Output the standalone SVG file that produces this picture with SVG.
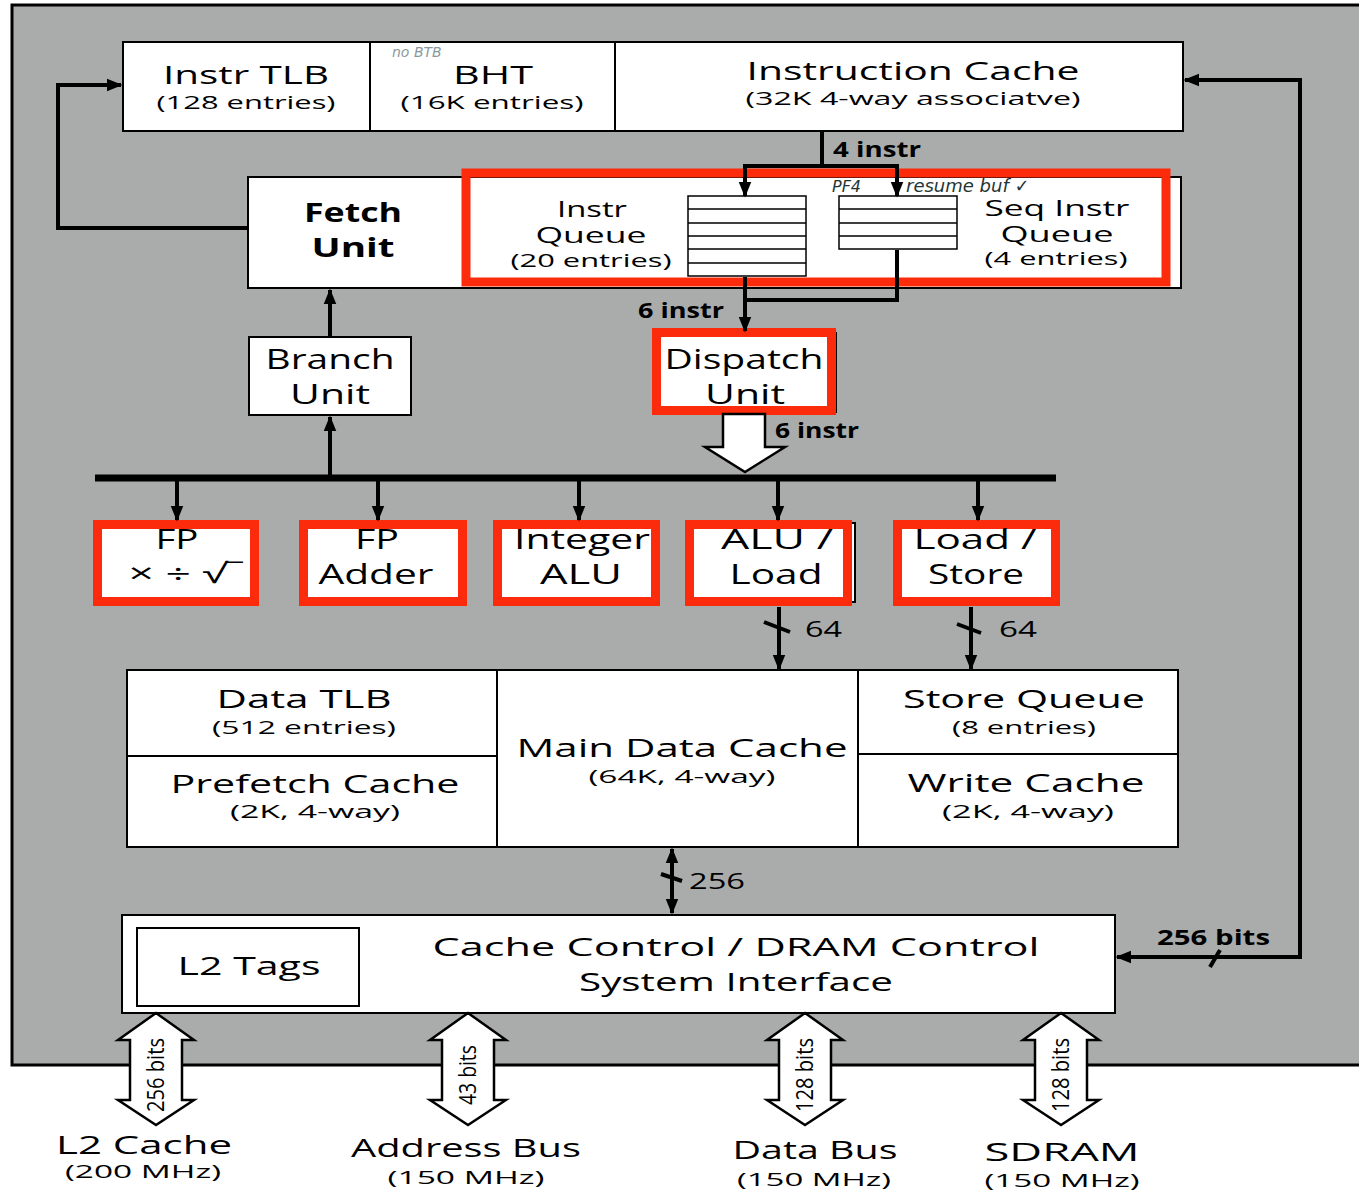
<svg xmlns="http://www.w3.org/2000/svg" width="1359" height="1191" viewBox="0 0 1359 1191">
<style>
.box{fill:#fff;stroke:#000;stroke-width:2}
.red{fill:none;stroke:#fb2b0b;stroke-width:9}
.t{font-family:"Open Sans","Liberation Sans",sans-serif;fill:#000;text-anchor:middle}
.b{font-weight:bold}
.s{text-anchor:start}
.conn{stroke:#000;stroke-width:4;fill:none}
.hollow{fill:#fff;stroke:#000;stroke-width:2.5;stroke-linejoin:miter}
.hand{font-family:"DejaVu Sans","Liberation Sans",sans-serif;font-style:italic;text-anchor:start}
</style>
<defs>
<marker id="ah" viewBox="0 0 10 10" refX="9" refY="5" markerWidth="16" markerHeight="16" markerUnits="userSpaceOnUse" orient="auto-start-reverse">
<path d="M0,1 L10,5 L0,9 z" fill="#000"/>
</marker>
</defs>
<rect x="0" y="0" width="1359" height="1191" fill="#fff"/>
<g id="frame">
<rect x="12" y="5" width="1347" height="1060" fill="#a9acab"/>
<path d="M1359,5 H12 V1065 H1359" fill="none" stroke="#000" stroke-width="3"/>
</g>

<g id="instr-tlb">
<rect class="box" x="123" y="42" width="247" height="89"/>
<text class="t" x="246" y="84" font-size="26" textLength="166" lengthAdjust="spacingAndGlyphs">Instr TLB</text>
<text class="t" x="246" y="109" font-size="19" textLength="179" lengthAdjust="spacingAndGlyphs">(128 entries)</text>
</g>
<g id="bht">
<rect class="box" x="370" y="42" width="245" height="89"/>
<text class="t" x="493" y="84" font-size="26" textLength="80" lengthAdjust="spacingAndGlyphs">BHT</text>
<text class="t" x="492" y="109" font-size="19" textLength="183" lengthAdjust="spacingAndGlyphs">(16K entries)</text>
<text class="hand" x="392" y="57" font-size="14" fill="#8a9a9c">no BTB</text>
</g>
<g id="instr-cache">
<rect class="box" x="615" y="42" width="568" height="89"/>
<text class="t" x="913" y="80" font-size="26" textLength="333" lengthAdjust="spacingAndGlyphs">Instruction Cache</text>
<text class="t" x="913" y="105" font-size="19" textLength="335" lengthAdjust="spacingAndGlyphs">(32K 4-way associatve)</text>
</g>

<g id="fetch-unit">
<rect class="box" x="248" y="177" width="933" height="111"/>
<text class="t b" x="353" y="222" font-size="27" textLength="98" lengthAdjust="spacingAndGlyphs">Fetch</text>
<text class="t b" x="353" y="257" font-size="27" textLength="83" lengthAdjust="spacingAndGlyphs">Unit</text>
</g>
<g id="instr-queue">
<rect x="688" y="196" width="118" height="80" fill="#fff" stroke="#000" stroke-width="1.5"/>
<path d="M688,209 H806 M688,223 H806 M688,236 H806 M688,249 H806 M688,263 H806" stroke="#000" stroke-width="1.5"/>
<text class="t" x="592" y="217" font-size="22" textLength="70" lengthAdjust="spacingAndGlyphs">Instr</text>
<text class="t" x="591" y="243" font-size="22" textLength="111" lengthAdjust="spacingAndGlyphs">Queue</text>
<text class="t" x="591" y="267" font-size="18" textLength="161" lengthAdjust="spacingAndGlyphs">(20 entries)</text>
</g>
<g id="seq-instr-queue">
<rect x="839" y="196" width="118" height="53" fill="#fff" stroke="#000" stroke-width="1.5"/>
<path d="M839,209 H957 M839,223 H957 M839,236 H957" stroke="#000" stroke-width="1.5"/>
<text class="t" x="1057" y="216" font-size="22" textLength="145" lengthAdjust="spacingAndGlyphs">Seq Instr</text>
<text class="t" x="1057" y="242" font-size="22" textLength="113" lengthAdjust="spacingAndGlyphs">Queue</text>
<text class="t" x="1056" y="265" font-size="18" textLength="143" lengthAdjust="spacingAndGlyphs">(4 entries)</text>
<text class="hand" x="832" y="192" font-size="16" fill="#1f3535">PF4</text>
<text class="hand" x="906" y="192" font-size="18" fill="#1f3535">resume buf ✓</text>
</g>
<g id="queue-highlight">
<rect class="red" x="466" y="173" width="700" height="109"/>
</g>

<g id="branch-unit">
<rect class="box" x="249" y="337" width="162" height="78"/>
<text class="t" x="330" y="369" font-size="27" textLength="129" lengthAdjust="spacingAndGlyphs">Branch</text>
<text class="t" x="330" y="404" font-size="27" textLength="80" lengthAdjust="spacingAndGlyphs">Unit</text>
</g>
<g id="dispatch-unit">
<rect class="box" x="656" y="333" width="180" height="79"/>
<rect class="red" x="656.5" y="332.5" width="175" height="78"/>
<text class="t" x="744" y="369" font-size="27" textLength="159" lengthAdjust="spacingAndGlyphs">Dispatch</text>
<text class="t" x="745" y="404" font-size="27" textLength="80" lengthAdjust="spacingAndGlyphs">Unit</text>
</g>

<g id="fp-mul">
<rect class="box" x="98" y="525" width="157" height="77"/>
<rect class="red" x="97.5" y="524.5" width="157" height="77"/>
<text class="t" x="177" y="549" font-size="27" textLength="43" lengthAdjust="spacingAndGlyphs">FP</text>
<text class="t" x="185" y="583" font-size="27" textLength="113" lengthAdjust="spacingAndGlyphs">× ÷ √‾</text>
</g>
<g id="fp-adder">
<rect class="box" x="303" y="525" width="160" height="77"/>
<rect class="red" x="303.5" y="524.5" width="159" height="77"/>
<text class="t" x="377" y="549" font-size="27" textLength="44" lengthAdjust="spacingAndGlyphs">FP</text>
<text class="t" x="376" y="584" font-size="27" textLength="115" lengthAdjust="spacingAndGlyphs">Adder</text>
</g>
<g id="integer-alu">
<rect class="box" x="497" y="525" width="160" height="77"/>
<rect class="red" x="497.5" y="524.5" width="158" height="77"/>
<text class="t" x="582" y="549" font-size="27" textLength="136" lengthAdjust="spacingAndGlyphs">Integer</text>
<text class="t" x="581" y="584" font-size="27" textLength="82" lengthAdjust="spacingAndGlyphs">ALU</text>
</g>
<g id="alu-load">
<rect class="box" x="690" y="523" width="165" height="79"/>
<rect class="red" x="689.5" y="524.5" width="158" height="77"/>
<text class="t" x="777" y="549" font-size="27" textLength="112" lengthAdjust="spacingAndGlyphs">ALU /</text>
<text class="t" x="776" y="584" font-size="27" textLength="93" lengthAdjust="spacingAndGlyphs">Load</text>
</g>
<g id="load-store">
<rect class="box" x="898" y="525" width="158" height="77"/>
<rect class="red" x="897.5" y="524.5" width="158" height="77"/>
<text class="t" x="975" y="549" font-size="27" textLength="123" lengthAdjust="spacingAndGlyphs">Load /</text>
<text class="t" x="976" y="584" font-size="27" textLength="96" lengthAdjust="spacingAndGlyphs">Store</text>
</g>

<g id="data-tlb">
<rect class="box" x="127" y="670" width="370" height="86"/>
<text class="t" x="304" y="708" font-size="26" textLength="175" lengthAdjust="spacingAndGlyphs">Data TLB</text>
<text class="t" x="304" y="734" font-size="19" textLength="184" lengthAdjust="spacingAndGlyphs">(512 entries)</text>
</g>
<g id="prefetch-cache">
<rect class="box" x="127" y="756" width="370" height="91"/>
<text class="t" x="315" y="793" font-size="26" textLength="289" lengthAdjust="spacingAndGlyphs">Prefetch Cache</text>
<text class="t" x="315" y="818" font-size="19" textLength="170" lengthAdjust="spacingAndGlyphs">(2K, 4-way)</text>
</g>
<g id="main-data-cache">
<rect class="box" x="497" y="670" width="361" height="177"/>
<text class="t" x="682" y="757" font-size="26" textLength="331" lengthAdjust="spacingAndGlyphs">Main Data Cache</text>
<text class="t" x="682" y="783" font-size="19" textLength="187" lengthAdjust="spacingAndGlyphs">(64K, 4-way)</text>
</g>
<g id="store-queue">
<rect class="box" x="858" y="670" width="320" height="84"/>
<text class="t" x="1024" y="708" font-size="26" textLength="242" lengthAdjust="spacingAndGlyphs">Store Queue</text>
<text class="t" x="1024" y="734" font-size="19" textLength="144" lengthAdjust="spacingAndGlyphs">(8 entries)</text>
</g>
<g id="write-cache">
<rect class="box" x="858" y="754" width="320" height="93"/>
<text class="t" x="1026" y="792" font-size="26" textLength="237" lengthAdjust="spacingAndGlyphs">Write Cache</text>
<text class="t" x="1028" y="818" font-size="19" textLength="172" lengthAdjust="spacingAndGlyphs">(2K, 4-way)</text>
</g>

<g id="cache-control">
<rect class="box" x="122" y="915" width="993" height="98"/>
<text class="t" x="736" y="956" font-size="26" textLength="607" lengthAdjust="spacingAndGlyphs">Cache Control / DRAM Control</text>
<text class="t" x="736" y="991" font-size="26" textLength="314" lengthAdjust="spacingAndGlyphs">System Interface</text>
</g>
<g id="l2-tags">
<rect class="box" x="137" y="928" width="222" height="78"/>
<text class="t" x="249" y="975" font-size="26" textLength="143" lengthAdjust="spacingAndGlyphs">L2 Tags</text>
</g>

<g id="l2-cache">
<text class="t" x="144" y="1154" font-size="25" textLength="176" lengthAdjust="spacingAndGlyphs">L2 Cache</text>
<text class="t" x="143" y="1178" font-size="18" textLength="156" lengthAdjust="spacingAndGlyphs">(200 MHz)</text>
</g>
<g id="address-bus">
<text class="t" x="466" y="1157" font-size="25" textLength="230" lengthAdjust="spacingAndGlyphs">Address Bus</text>
<text class="t" x="466" y="1184" font-size="18" textLength="157" lengthAdjust="spacingAndGlyphs">(150 MHz)</text>
</g>
<g id="data-bus">
<text class="t" x="815" y="1159" font-size="25" textLength="165" lengthAdjust="spacingAndGlyphs">Data Bus</text>
<text class="t" x="814" y="1186" font-size="18" textLength="154" lengthAdjust="spacingAndGlyphs">(150 MHz)</text>
</g>
<g id="sdram">
<text class="t" x="1062" y="1161" font-size="25" textLength="155" lengthAdjust="spacingAndGlyphs">SDRAM</text>
<text class="t" x="1062" y="1187" font-size="18" textLength="155" lengthAdjust="spacingAndGlyphs">(150 MHz)</text>
</g>

<g id="connectors">
<path class="conn" d="M248,228 H58 V85 H121" marker-end="url(#ah)"/>
<path class="conn" d="M1185,80 H1300 V957 H1117" marker-start="url(#ah)" marker-end="url(#ah)"/>
<line class="conn" x1="1210" y1="967" x2="1220" y2="950" stroke-width="2"/>
<path class="conn" d="M822,132 V166"/>
<path class="conn" d="M743,166 H899"/>
<path class="conn" d="M745,166 V196" marker-end="url(#ah)"/>
<path class="conn" d="M897,166 V196" marker-end="url(#ah)"/>
<path class="conn" d="M745,277 V331" marker-end="url(#ah)"/>
<path class="conn" d="M897,250 V300 H745"/>
<path class="conn" d="M330,336 V290" marker-end="url(#ah)"/>
<path class="conn" d="M330,476 V417" marker-end="url(#ah)"/>
<path d="M95,478 H1056" stroke="#000" stroke-width="7" fill="none"/>
<path class="hollow" d="M723,414 L765,414 L765,447 L785,447 L745,472 L705,447 L723,447 Z"/>
<path class="conn" d="M177,478 V520" marker-end="url(#ah)"/>
<path class="conn" d="M378,478 V520" marker-end="url(#ah)"/>
<path class="conn" d="M579,478 V520" marker-end="url(#ah)"/>
<path class="conn" d="M778,478 V520" marker-end="url(#ah)"/>
<path class="conn" d="M978,478 V520" marker-end="url(#ah)"/>
<path class="conn" d="M779,607 V669" marker-end="url(#ah)"/>
<line class="conn" x1="764" y1="622" x2="790" y2="632" stroke-width="2"/>
<path class="conn" d="M971,607 V669" marker-end="url(#ah)"/>
<line class="conn" x1="957" y1="624" x2="981" y2="633" stroke-width="2"/>
<path class="conn" d="M672,849 V913" marker-start="url(#ah)" marker-end="url(#ah)"/>
<line class="conn" x1="661" y1="874" x2="682" y2="881" stroke-width="2"/>
<path class="hollow" d="M156,1013 L194,1040 L182,1040 L182,1100 L194,1100 L156,1125 L118,1100 L130,1100 L130,1040 L118,1040 Z"/>
<path class="hollow" d="M468,1013 L506,1040 L494,1040 L494,1100 L506,1100 L468,1125 L430,1100 L442,1100 L442,1040 L430,1040 Z"/>
<path class="hollow" d="M805,1013 L843,1040 L831,1040 L831,1100 L843,1100 L805,1125 L767,1100 L779,1100 L779,1040 L767,1040 Z"/>
<path class="hollow" d="M1061,1013 L1099,1040 L1087,1040 L1087,1100 L1099,1100 L1061,1125 L1023,1100 L1035,1100 L1035,1040 L1023,1040 Z"/>
<text class="t b s" x="833" y="157" font-size="22" textLength="88" lengthAdjust="spacingAndGlyphs">4 instr</text>
<text class="t b s" x="638" y="318" font-size="22" textLength="86" lengthAdjust="spacingAndGlyphs">6 instr</text>
<text class="t b s" x="775" y="438" font-size="22" textLength="84" lengthAdjust="spacingAndGlyphs">6 instr</text>
<text class="t s" x="805" y="637" font-size="22" textLength="37" lengthAdjust="spacingAndGlyphs">64</text>
<text class="t s" x="999" y="637" font-size="22" textLength="38" lengthAdjust="spacingAndGlyphs">64</text>
<text class="t s" x="689" y="889" font-size="22" textLength="56" lengthAdjust="spacingAndGlyphs">256</text>
<text class="t b s" x="1157" y="945" font-size="22" textLength="113" lengthAdjust="spacingAndGlyphs">256 bits</text>
<text class="t" transform="translate(156,1075) rotate(-90)" x="0" y="8" font-size="23" textLength="74" lengthAdjust="spacingAndGlyphs">256 bits</text>
<text class="t" transform="translate(468,1075) rotate(-90)" x="0" y="8" font-size="23" textLength="60" lengthAdjust="spacingAndGlyphs">43 bits</text>
<text class="t" transform="translate(805,1075) rotate(-90)" x="0" y="8" font-size="23" textLength="74" lengthAdjust="spacingAndGlyphs">128 bits</text>
<text class="t" transform="translate(1061,1075) rotate(-90)" x="0" y="8" font-size="23" textLength="74" lengthAdjust="spacingAndGlyphs">128 bits</text>
</g>
</svg>
